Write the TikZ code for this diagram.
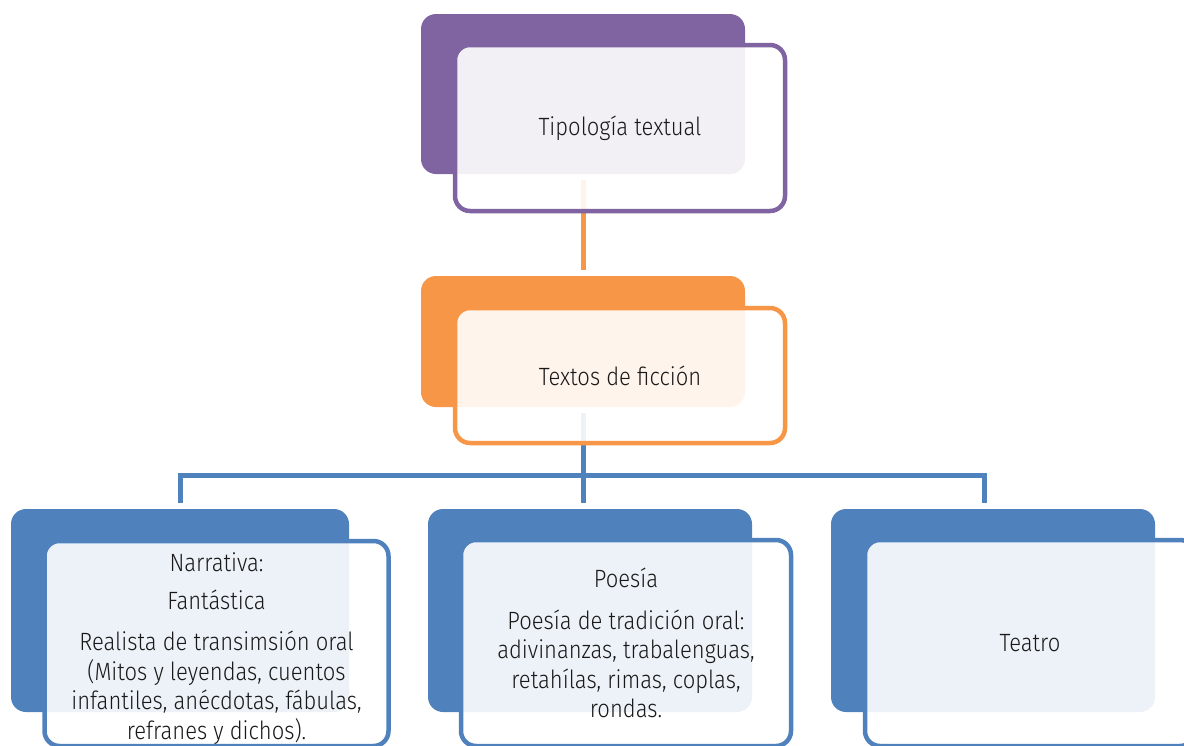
\documentclass[tikz,border=0pt]{standalone}
\usepackage{fontspec}
\setmainfont{Fira Sans Light}[FakeStretch=0.88]
\definecolor{cpurple}{HTML}{8064A2}
\definecolor{corange}{HTML}{F79646}
\definecolor{cblue}{HTML}{4F81BD}
\begin{document}
\begin{tikzpicture}[x=1pt,y=-1pt,
  backbox/.style={rectangle, rounded corners=15pt, fill=#1, draw=none, inner sep=0pt, outer sep=0pt},
  frontbox/.style={rectangle, rounded corners=15pt, draw=#1, line width=4.5pt, fill=white, fill opacity=0.9, text opacity=1, inner sep=0pt, outer sep=0pt, align=center, text=black!90, font=\fontsize{25}{29.5}\selectfont},
  conn/.style={draw=#1, line width=5pt}
]
\useasboundingbox (0,0) rectangle (1184,745);
% back boxes
\node[backbox=cpurple, minimum width=324pt, minimum height=160pt] (b1) at (583,94) {};
\node[backbox=corange, minimum width=324pt, minimum height=131pt] (b2) at (583,341.5) {};
\node[backbox=cblue, minimum width=338pt, minimum height=203pt] (n1) at (180,610.5) {};
\node[backbox=cblue, minimum width=324pt, minimum height=203pt] (n2) at (590,610.5) {};
\node[backbox=cblue, minimum width=324pt, minimum height=203pt] (n3) at (993,610.5) {};
% connectors
\draw[conn=corange] ([yshift=-6pt]b1.south) -- ([yshift=6pt]b2.north);
\coordinate (j) at ([yshift=-68pt]b2.south);
\draw[conn=cblue] ([yshift=-6pt]b2.south) -- ([yshift=6pt]b2.south |- n2.north);
\draw[conn=cblue] ([yshift=6pt]n1.north) |- (j) -| ([xshift=-9pt,yshift=6pt]n3.north);
% front boxes
\node[frontbox=cpurple, minimum width=330pt, minimum height=166pt] (f1) at (620,128) {Tipología textual};
\node[frontbox=corange, minimum width=330pt, minimum height=135pt] (f2) at (620,375.5) {Textos de ficción};
\node[frontbox=cblue, minimum width=344pt, minimum height=205pt] (g1) at (216.5,643.5)
  {\rule{0pt}{29pt}Narrativa:\\[8pt]Fantástica\\[12pt]Realista de transimsión oral\\(Mitos y leyendas, cuentos\\infantiles, anécdotas, fábulas,\\refranes y dichos).};
\node[frontbox=cblue, minimum width=330pt, minimum height=206pt] (g2) at (626,643)
  {Poesía\\[12pt]Poesía de tradición oral:\\adivinanzas, trabalenguas,\\retahílas, rimas, coplas,\\rondas.};
\node[frontbox=cblue, minimum width=330pt, minimum height=206pt] (g3) at (1030,643) {Teatro};
\end{tikzpicture}
\end{document}
